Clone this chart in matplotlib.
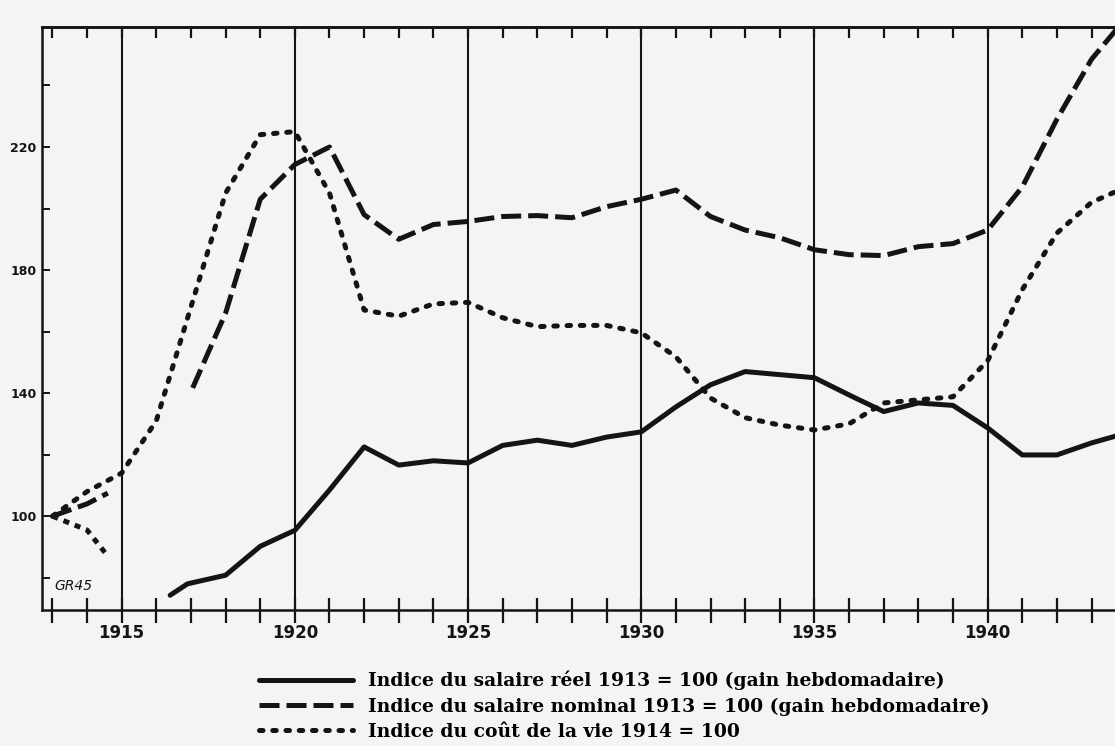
import matplotlib.pyplot as plt
from matplotlib.lines import Line2D

# Données
annees_debut = [1913, 1914, 1914.6]
reel_debut = [100, 95.5, 87]
nominal_debut = [100, 104, 107.5]

annees_cout = [1913, 1914, 1915, 1916, 1917, 1918, 1919, 1920, 1921, 1922, 1923,
               1924, 1925, 1926, 1927, 1928, 1929, 1930, 1931, 1932, 1933, 1934,
               1935, 1936, 1937, 1938, 1939, 1940, 1941, 1942, 1943, 1944]
cout_vie = [100, 108, 114, 131, 168, 205, 224, 225, 205, 167, 165,
            169, 169.5, 164.5, 161.6, 162, 162, 159.6, 151.8, 138.4, 132, 129.6,
            128, 130, 136.8, 137.8, 138.8, 150.5, 173.6, 192, 202, 207]

annees_nominal = [1917.05, 1918, 1919, 1920, 1921, 1922, 1923, 1924, 1925, 1926,
                  1927, 1928, 1929, 1930, 1931, 1932, 1933, 1934, 1935, 1936,
                  1937, 1938, 1939, 1940, 1941, 1942, 1943, 1944]
salaire_nominal = [141.7, 166, 203, 214.3, 220, 198, 190, 194.8, 195.8, 197.4,
                   197.7, 197, 200.6, 203, 206, 197.4, 193, 190.5, 186.6, 185,
                   184.7, 187.6, 188.6, 193, 207, 229, 248.5, 262]

annees_reel = [1916.4, 1916.9, 1918, 1919, 1920, 1921, 1922, 1923, 1924, 1925,
               1926, 1927, 1928, 1929, 1930, 1931, 1932, 1933, 1934, 1935, 1936,
               1937, 1938, 1939, 1940, 1941, 1942, 1943, 1944]
salaire_reel = [74.3, 78, 80.8, 90.2, 95.4, 108.5, 122.5, 116.6, 118, 117.3,
                123, 124.7, 123, 125.7, 127.4, 135.5, 142.7, 147, 146, 145, 139.4,
                134, 136.8, 136, 128.7, 119.9, 119.9, 123.8, 127]

annees_grille = [1915, 1920, 1925, 1930, 1935, 1940]
y_graduations = [80, 100, 120, 140, 160, 180, 200, 220, 240]
y_etiquettes = {100: "100", 140: "140", 180: "180", 220: "220"}

legende = ["Indice du salaire réel 1913 = 100 (gain hebdomadaire)",
           "Indice du salaire nominal 1913 = 100 (gain hebdomadaire)",
           "Indice du coût de la vie 1914 = 100"]

# Styles
fond = "#f4f4f2"
noir = "#141414"
lw = 3.6
style_reel = dict(color=noir, lw=lw, solid_capstyle="round", solid_joinstyle="round")
style_nominal = dict(color=noir, lw=lw, dashes=(4.0, 1.4), dash_capstyle="butt")
style_cout = dict(color=noir, lw=lw, dashes=(0.7, 1.95), dash_capstyle="round")

fig = plt.figure(figsize=(11.15, 7.46), dpi=100, facecolor=fond)
ax = fig.add_axes([42/1115, 1-610/746, 1-42/1115 + 0.01, (610-27)/746])
ax.set_facecolor(fond)
ax.set_xlim(1912.7, 1944.0)
ax.set_ylim(69.5, 259)

for a in annees_grille:
    ax.axvline(a, color=noir, lw=1.5, zorder=1)

ax.plot(annees_cout, cout_vie, zorder=3, **style_cout)
ax.plot(annees_nominal, salaire_nominal, zorder=3, clip_on=False, **style_nominal)
ax.plot(annees_reel, salaire_reel, zorder=4, **style_reel)
ax.plot(annees_debut, reel_debut, color=noir, lw=lw, dashes=(1.2, 1.2), zorder=3)
ax.plot(annees_debut, nominal_debut, zorder=3, **style_nominal)

for s in ["left", "bottom", "top"]:
    ax.spines[s].set_linewidth(1.8)
    ax.spines[s].set_color(noir)
ax.spines["right"].set_visible(False)

# graduations
annees = list(range(1913, 1944))
ax.set_xticks(annees)
ax.set_xticklabels([])
ax.tick_params(axis="x", direction="inout", length=18, width=1.6, color=noir, bottom=True, top=False)
haut = ax.secondary_xaxis("top")
haut.set_xticks(annees)
haut.set_xticklabels([])
haut.tick_params(direction="in", length=8, width=1.6, color=noir)
haut.spines["top"].set_linewidth(1.8)

ax.set_yticks(y_graduations)
ax.set_yticklabels([y_etiquettes.get(v, "") for v in y_graduations],
                   fontsize=9, fontweight="bold", color=noir)
ax.tick_params(axis="y", direction="in", length=6, width=1.4, color=noir, pad=4)

for a in annees_grille:
    ax.text(a, 62.0, str(a), ha="center", va="center", fontsize=12,
            fontweight="bold", color=noir, clip_on=False)

ax.text(1913.05, 76, "GR45", fontsize=10, style="italic", color=noir)

# légende
poignees = [Line2D([], [], **style_reel),
            Line2D([], [], **style_nominal),
            Line2D([], [], **style_cout)]
fig.legend(poignees, legende, loc="upper left", bbox_to_anchor=(242/1115, 1-654/746),
           frameon=False, handlelength=5.0, handletextpad=0.8, labelspacing=0.38,
           prop={"family": "DejaVu Serif", "weight": "bold", "size": 13.5})

fig.savefig("out.png", dpi=100, facecolor=fond)
